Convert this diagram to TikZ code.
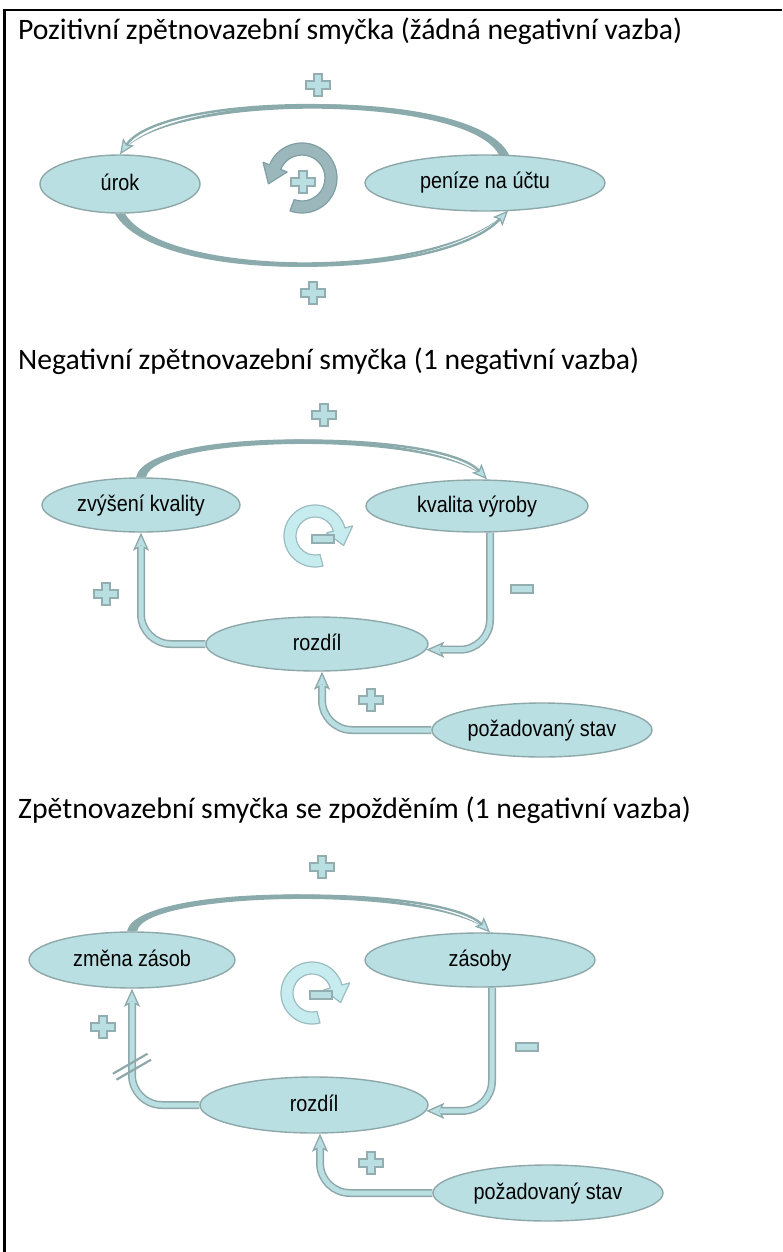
\documentclass[tikz,border=0pt]{standalone}
\usepackage{fontspec}
\setmainfont{Carlito}
\newfontfamily\labelfont[FakeStretch=0.88]{Liberation Sans}
\usetikzlibrary{shapes.geometric, arrows.meta, calc, backgrounds}

\definecolor{nodefill}{HTML}{B9DFE2}
\definecolor{nodeedge}{HTML}{8EA8AA}
\definecolor{bandcol}{HTML}{8AAAAC}
\definecolor{loopdark}{HTML}{9BB7BB}
\definecolor{loopdarkedge}{HTML}{7F9FA3}
\definecolor{looplight}{HTML}{C6ECF0}
\definecolor{looplightedge}{HTML}{9CBCBF}
\definecolor{signedge}{HTML}{93AEB0}

\tikzset{
  varnode/.style={ellipse, draw=nodeedge, line width=1.4pt, fill=nodefill, inner sep=0pt,
    font=\labelfont\fontsize{22.5}{26}\selectfont, text=black, text height=16pt, text depth=4pt},
  heading/.style={anchor=base west, inner sep=0pt, font=\fontsize{29.7}{35}\selectfont, text=black},
  hollowtip/.tip={Stealth[length=18pt, width=16pt, inset=4pt, line width=1.3pt, fill=nodefill]},
  smalltip/.tip={Stealth[length=15pt, width=13pt, inset=3pt, line width=1.2pt, fill=nodefill]},
  link/.style={draw=nodeedge, line width=8pt, rounded corners=30pt, -{hollowtip},
    postaction={draw=nodefill, line width=5pt, arrows=-, shorten >=13pt}},
  arclink/.style={draw=bandcol, line width=2.4pt, -{smalltip}},
  signstyle/.style={draw=signedge, fill=nodefill, line width=1.2pt},
  pics/plussign/.style={code={
    \filldraw[signstyle] (-4,-11) -- (4,-11) -- (4,-4) -- (12,-4) -- (12,4) -- (4,4)
      -- (4,11) -- (-4,11) -- (-4,4) -- (-12,4) -- (-12,-4) -- (-4,-4) -- cycle;}},
  pics/minussign/.style={code={\filldraw[signstyle] (-11,-4) rectangle (11,4);}},
}

\begin{document}
\begin{tikzpicture}[x=1pt, y=-1pt]
\useasboundingbox (0,0) rectangle (782,1252);
% page frame
\draw[black, line width=2.2pt] (782,10) -- (4.5,10) -- (4.5,1252);

% headings
\node[heading] (h1) at (18,40) {Pozitivní zpětnovazební smyčka (žádná negativní vazba)};
\node[heading] (h2) at (18,369) {Negativní zpětnovazební smyčka (1 negativní vazba)};
\node[heading] (h3) at (18,818) {Zpětnovazební smyčka se zpožděním (1 negativní vazba)};

% ---------- positive loop ----------
\node[varnode, minimum width=160pt, minimum height=58pt] (urok) at (120,184) {úrok};
\node[varnode, minimum width=240pt, minimum height=56pt] (penize) at (485,183) {peníze na účtu};

% ---------- negative loop ----------
\node[varnode, minimum width=198pt, minimum height=54pt] (zvyseni) at (141,505) {zvýšení kvality};
\node[varnode, minimum width=222pt, minimum height=52pt] (kvalita) at (477,506) {kvalita výroby};
\node[varnode, minimum width=222pt, minimum height=54pt] (rozdilA) at (317,644) {rozdíl};
\node[varnode, minimum width=220pt, minimum height=54pt] (pozadA) at (542,730) {požadovaný stav};

% ---------- delayed loop ----------
\node[varnode, minimum width=206pt, minimum height=56pt] (zmena) at (132,960) {změna zásob};
\node[varnode, minimum width=230pt, minimum height=54pt] (zasoby) at (480,960) {zásoby};
\node[varnode, minimum width=228pt, minimum height=56pt] (rozdilB) at (314,1105) {rozdíl};
\node[varnode, minimum width=230pt, minimum height=56pt] (pozadB) at (548,1193) {požadovaný stav};

\begin{pgfonlayer}{background}
  % money -> interest (tapered arc)
  \coordinate (s1) at ($(penize.north)+(20,3)$);
  \fill[bandcol] ($(s1)+(5,0)$) .. controls (484,86) and (164,88) .. (urok.north)
    .. controls (164,92) and (476,94) .. ($(s1)+(-5,0)$) -- cycle;
  \draw[arclink] (s1) .. controls (480,90) and (164,90) .. (urok.north);

  % interest -> money
  \coordinate (e1) at ($(penize.south)+(23,-1)$);
  \fill[bandcol] ($(urok.south)+(-5,0)$) .. controls (156,286) and (440,284) .. (e1)
    .. controls (440,280) and (164,278) .. ($(urok.south)+(5,0)$) -- cycle;
  \draw[arclink] (urok.south) .. controls (160,282) and (440,282) .. (e1);

  % quality increase -> production quality
  \coordinate (e2) at ($(kvalita.north)+(10,0)$);
  \fill[bandcol] ($(zvyseni.north)+(5,0)$) .. controls (154,434) and (440,431) .. (e2)
    .. controls (440,427) and (146,426) .. ($(zvyseni.north)+(-5,0)$) -- cycle;
  \draw[arclink] (zvyseni.north) .. controls (150,430) and (440,429) .. (e2);

  \draw[link] ($(kvalita.south)+(13,0)$) |- (rozdilA.-3);
  \draw[link] (rozdilA.west) -| (zvyseni.south);
  \draw[link] (pozadA.west) -| ($(rozdilA.south)+(5,0)$);

  % stock change -> stock
  \coordinate (e3) at ($(zasoby.north)+(10,0)$);
  \fill[bandcol] ($(zmena.north)+(5,0)$) .. controls (144,890) and (440,886) .. (e3)
    .. controls (440,882) and (136,882) .. ($(zmena.north)+(-5,0)$) -- cycle;
  \draw[arclink] (zmena.north) .. controls (140,886) and (440,884) .. (e3);

  \draw[link] ($(zasoby.south)+(12,0)$) |- (rozdilB.-3);
  \draw[link] (rozdilB.west) -| (zmena.south);
  \draw[link] (pozadB.west) -| ($(rozdilB.south)+(6,0)$);
\end{pgfonlayer}

% delay mark on the correction link
\coordinate (delay) at ($(zmena.south)+(0,78)$);
\draw[nodeedge, line width=2.2pt] ($(delay)+(-19.05,7)$) -- ($(delay)+(15.55,-13)$);
\draw[nodeedge, line width=2.2pt] ($(delay)+(-15.55,13)$) -- ($(delay)+(19.05,-7)$);

% loop symbols
\begin{scope}[shift={(302,178)}, y=1pt]
  \filldraw[draw=loopdarkedge, fill=loopdark, line width=1.2pt, line join=round]
    (-110:35) arc[start angle=-110, end angle=158, radius=35] -- (158:42) -- (-33.6,-5.8)
    -- (158:16) -- (158:23) arc[start angle=158, end angle=-110, radius=23] -- cycle;
\end{scope}
\begin{scope}[shift={(315,536)}, y=1pt]
  \filldraw[draw=looplightedge, fill=looplight, line width=1.2pt, line join=round]
    (285:31) arc[start angle=285, end angle=15, radius=31] -- (15:39) -- (28.6,-9.5)
    -- (15:12) -- (15:19) arc[start angle=15, end angle=285, radius=19] -- cycle;
\end{scope}
\begin{scope}[shift={(312,993)}, y=1pt]
  \filldraw[draw=looplightedge, fill=looplight, line width=1.2pt, line join=round]
    (285:31) arc[start angle=285, end angle=15, radius=31] -- (15:39) -- (28.6,-9.5)
    -- (15:12) -- (15:19) arc[start angle=15, end angle=285, radius=19] -- cycle;
\end{scope}

% polarity signs
\pic at (318,85) {plussign};
\pic at (313,293) {plussign};
\pic at (303,182) {plussign};

\pic at (324,415) {plussign};
\pic at (106,594) {plussign};
\pic at (522,589) {minussign};
\pic at (371,700) {plussign};
\pic at (323,539) {minussign};

\pic at (322,867) {plussign};
\pic at (103,1027) {plussign};
\pic at (527,1047) {minussign};
\pic at (371,1163) {plussign};
\pic at (321,995) {minussign};
\end{tikzpicture}
\end{document}
